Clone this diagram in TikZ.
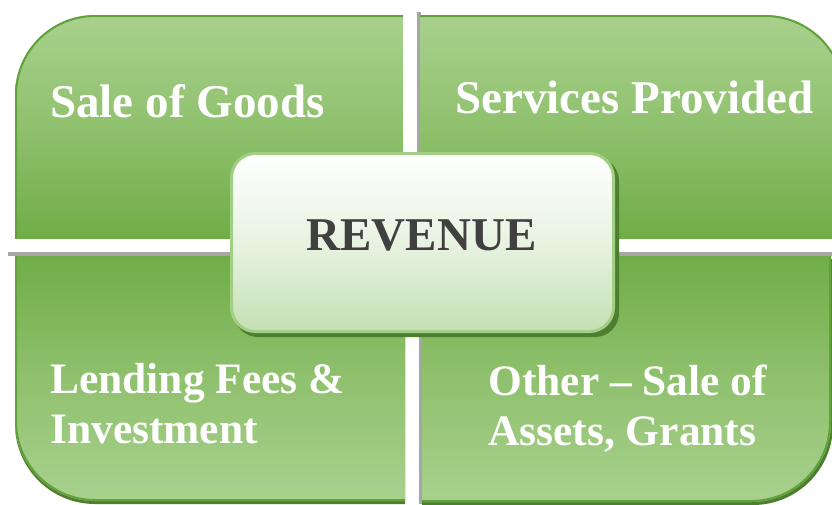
\documentclass[tikz,border=0pt]{standalone}
\usepackage{fontspec}
\setmainfont{Liberation Serif}
\definecolor{glight}{HTML}{A9D18E}
\definecolor{gdark}{HTML}{70AD47}
\definecolor{gedge}{HTML}{62A23A}
\definecolor{gshadow}{HTML}{4E7F31}
\definecolor{boxedge}{HTML}{A2CE86}
\definecolor{boxbottom}{HTML}{C5E0B4}
\definecolor{divider}{HTML}{A6A6A6}
\definecolor{labelgray}{HTML}{404040}
\begin{document}
\begin{tikzpicture}[x=0.75pt,y=-0.75pt,
  quadtext/.style={text=white, font=\bfseries\fontsize{35.25}{37.5}\selectfont,
    inner sep=0pt, align=left},
  quadsmall/.style={quadtext, font=\bfseries\fontsize{32.6}{37.5}\selectfont},
  outline/.style={rounded corners=60pt, draw=gedge, line width=3pt},
  revbox/.style={draw=boxedge, line width=2.25pt, rounded corners=18pt,
    top color=white, bottom color=boxbottom, middle color=white!60!boxbottom,
    minimum width=286.5pt, minimum height=133.5pt, inner sep=0pt},
  revlabel/.style={text=labelgray, font=\bfseries\fontsize{35.25}{37.5}\selectfont,
    inner sep=0pt}]
\useasboundingbox (0,0) rectangle (832,504);
\fill[white] (0,0) rectangle (832,504);

% divider lines between the quadrants
\fill[divider] (8,252) rectangle (832,255.5);
\fill[divider] (417,12) rectangle (420.5,253);
\fill[divider] (419,254) rectangle (422.5,504);

% top-left quadrant
\begin{scope}
  \clip (15,15) rectangle (403,238);
  \clip[rounded corners=60pt] (15,15) rectangle (503,338);
  \shade[top color=glight, bottom color=gdark, middle color=glight!55!gdark]
    (15,15) rectangle (403,238);
  \draw[outline] (15,15) rectangle (503,338);
\end{scope}

% top-right quadrant
\begin{scope}
  \clip (420,15) rectangle (845,238);
  \clip[rounded corners=60pt] (320,15) rectangle (845,338);
  \shade[top color=glight, bottom color=gdark, middle color=glight!55!gdark]
    (420,15) rectangle (845,238);
  \draw[outline] (320,15) rectangle (845,338);
\end{scope}

% bottom-left quadrant with its shadow
\begin{scope}
  \clip (15,259) rectangle (405,504);
  \fill[gshadow, rounded corners=60pt] (15,159) rectangle (505,504);
\end{scope}
\begin{scope}
  \clip (15,256) rectangle (405,501);
  \clip[rounded corners=60pt] (15,156) rectangle (505,501);
  \shade[top color=gdark, bottom color=glight, middle color=glight!55!gdark]
    (15,256) rectangle (405,501);
  \draw[outline] (15,156) rectangle (505,501);
\end{scope}

% bottom-right quadrant with its shadow
\begin{scope}
  \clip (422,259) rectangle (834,505);
  \fill[gshadow, rounded corners=60pt] (323,159) rectangle (833,505);
\end{scope}
\begin{scope}
  \clip (422,256) rectangle (831,502);
  \clip[rounded corners=60pt] (322,156) rectangle (831,502);
  \shade[top color=gdark, bottom color=glight, middle color=glight!55!gdark]
    (422,256) rectangle (831,502);
  \draw[outline] (322,156) rectangle (831,502);
\end{scope}

% quadrant labels (multi-line labels are anchored on their last baseline)
\node[quadtext, anchor=base west] (goods) at (50,117) {Sale of Goods};
\node[quadtext, anchor=base west] (services) at (455,113) {Services Provided};
\node[quadsmall, anchor=base west] (lending) at (50,443) {Lending Fees \&\\Investment};
\node[quadsmall, anchor=base west] (other) at (488,445) {Other -- Sale of\\Assets, Grants};

% central box
\fill[gshadow, rounded corners=18pt] (234,157) rectangle (619,337);
\node[revbox] (rev) at (422.5,242.5) {};
\node[revlabel, anchor=base] (revtext) at (421.5,250) {REVENUE};
\end{tikzpicture}
\end{document}
